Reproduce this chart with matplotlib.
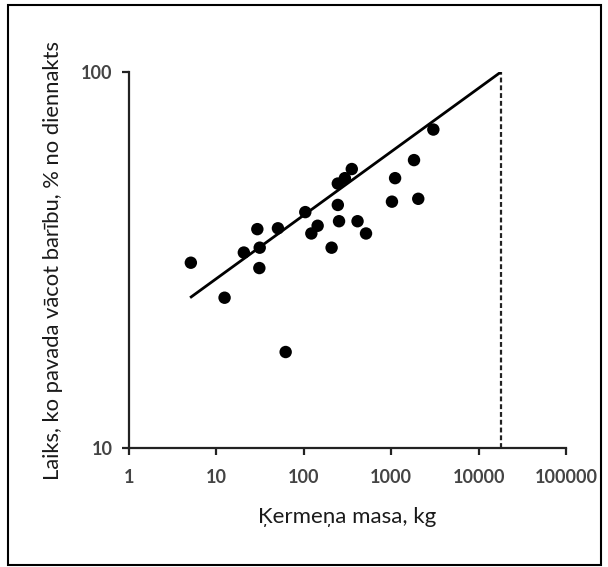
import matplotlib
matplotlib.use("Agg")
import matplotlib.pyplot as plt
from matplotlib.patches import Rectangle
from matplotlib.ticker import FixedLocator, FixedFormatter, NullLocator

# Data (body mass kg, % of day spent foraging)
mass = [5.1, 12.4, 20.6, 29.4, 31.3, 31.0, 50.6, 62, 104, 122, 144, 208,
        245, 245, 253, 295, 354, 412, 515, 1020, 1108, 1824, 2040, 3035]
time_pct = [31.1, 25.1, 33.1, 38.2, 34.1, 30.1, 38.4, 18.0, 42.4, 37.2, 39.0, 34.1,
            50.5, 44.3, 40.1, 52.2, 55.2, 40.1, 37.2, 45.2, 52.2, 58.3, 46.0, 70.3]
fit_x = [5, 18000]
fit_y = [25.1, 100]
limit_x = 18000

x_ticks = [1, 10, 100, 1000, 10000, 100000]
x_labels = ["1", "10", "100", "1000", "10000", "100000"]
y_ticks = [10, 100]
y_labels = ["10", "100"]

plt.rcParams['font.family'] = ['Lato', 'DejaVu Sans']

fig = plt.figure(figsize=(6.08, 5.67), dpi=100)
fig.patches.append(Rectangle((8/608, 1 - 565/567), 593/608, 560/567,
                             transform=fig.transFigure, fill=False,
                             edgecolor='black', linewidth=1.5))

ax = fig.add_axes([129/608, 1 - 448/567, (566 - 129)/608, (448 - 72)/567])
ax.set_xscale('log')
ax.set_yscale('log')
ax.set_xlim(1, 100000)
ax.set_ylim(10, 100)

ax.plot(fit_x, fit_y, color='black', lw=2.0, solid_capstyle='butt', zorder=3)
ax.plot([limit_x, limit_x], [10, 100], color='#222222', lw=1.6,
        linestyle=(0, (2.2, 1.3)), zorder=2)
ax.scatter(mass, time_pct, s=80, color='black', edgecolors='none', zorder=4)

for s in ['top', 'right']:
    ax.spines[s].set_visible(False)
for s in ['left', 'bottom']:
    ax.spines[s].set_linewidth(1.6)
    ax.spines[s].set_color('#222222')

ax.xaxis.set_major_locator(FixedLocator(x_ticks))
ax.xaxis.set_major_formatter(FixedFormatter(x_labels))
ax.yaxis.set_major_locator(FixedLocator(y_ticks))
ax.yaxis.set_major_formatter(FixedFormatter(y_labels))
ax.xaxis.set_minor_locator(NullLocator())
ax.yaxis.set_minor_locator(NullLocator())
ax.tick_params(axis='both', which='major', length=5, width=1.6, color='#222222',
               labelsize=13, labelcolor='#444444', direction='out')
ax.tick_params(axis='x', pad=10)
ax.tick_params(axis='y', pad=7)
for lbl in ax.get_xticklabels() + ax.get_yticklabels():
    lbl.set_fontweight('bold')

ax.set_xlabel('Ķermeņa masa, kg', fontsize=16, color='#1a1a1a', labelpad=15)
ax.set_ylabel('Laiks, ko pavada vācot barību, % no diennakts', fontsize=15.8,
              color='#1a1a1a', labelpad=13)

fig.savefig('out.png', dpi=100, facecolor='white')
